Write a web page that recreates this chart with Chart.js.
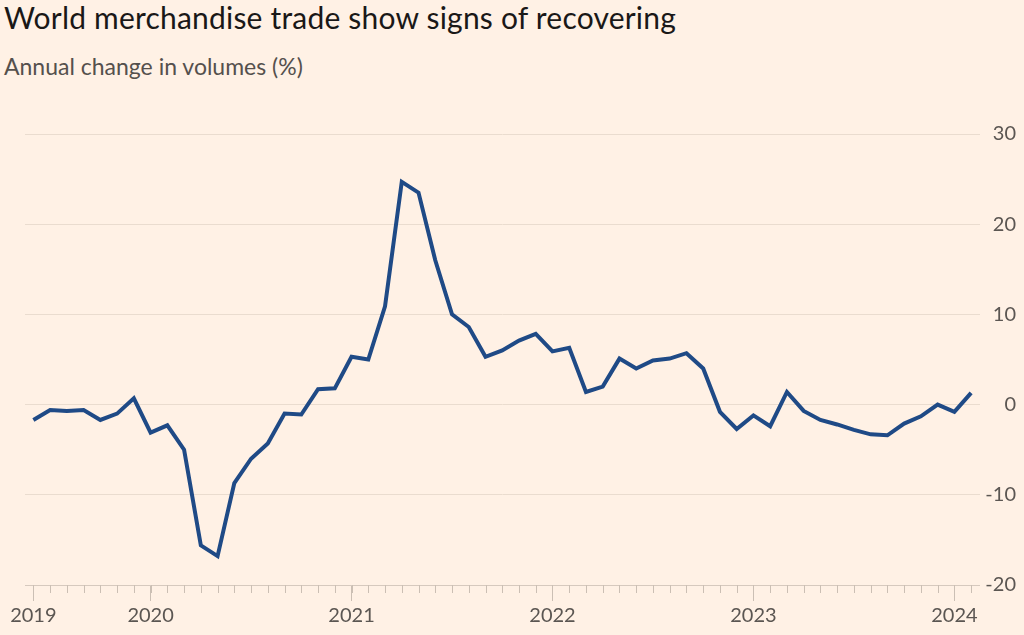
<!DOCTYPE html>
<html>
<head>
<meta charset="utf-8">
<script src="https://cdn.jsdelivr.net/npm/chart.js@4.4.1/dist/chart.umd.min.js"></script>
<style>
  html, body { margin: 0; padding: 0; background: #fff1e5; }
  #wrap { position: relative; width: 1024px; height: 635px; overflow: hidden; background: #fff1e5; }
  #title { position: absolute; left: 4px; top: -1px; font-family: Lato, "Open Sans", sans-serif; font-size: 30px; letter-spacing: 0.2px; color: #1a1817; white-space: nowrap; }
  #sub { position: absolute; left: 4px; top: 52px; font-family: Lato, "Open Sans", sans-serif; font-size: 23px; color: #55504d; white-space: nowrap; }
  canvas { position: absolute; left: 0; top: 0; }
</style>
</head>
<body>
<div id="wrap">
  <div id="title">World merchandise trade show signs of recovering</div>
  <div id="sub">Annual change in volumes (%)</div>
  <canvas id="c" width="1024" height="635"></canvas>
</div>
<script>
// Monthly categories (Jun 2019 – Feb 2024)
const months = [
  "Jun 2019","Jul 2019","Aug 2019","Sep 2019","Oct 2019","Nov 2019","Dec 2019",
  "Jan 2020","Feb 2020","Mar 2020","Apr 2020","May 2020","Jun 2020","Jul 2020","Aug 2020","Sep 2020","Oct 2020","Nov 2020","Dec 2020",
  "Jan 2021","Feb 2021","Mar 2021","Apr 2021","May 2021","Jun 2021","Jul 2021","Aug 2021","Sep 2021","Oct 2021","Nov 2021","Dec 2021",
  "Jan 2022","Feb 2022","Mar 2022","Apr 2022","May 2022","Jun 2022","Jul 2022","Aug 2022","Sep 2022","Oct 2022","Nov 2022","Dec 2022",
  "Jan 2023","Feb 2023","Mar 2023","Apr 2023","May 2023","Jun 2023","Jul 2023","Aug 2023","Sep 2023","Oct 2023","Nov 2023","Dec 2023",
  "Jan 2024","Feb 2024"
];

// Annual change in merchandise trade volumes (%)
const volumeChange = [
  -1.7, -0.6, -0.7, -0.6, -1.7, -1.0, 0.7,
  -3.1, -2.3, -5.0, -15.6, -16.8, -8.7, -6.0, -4.3, -1.0, -1.1, 1.7, 1.8,
  5.3, 5.0, 10.9, 24.7, 23.5, 16.0, 10.0, 8.6, 5.3, 6.0, 7.1, 7.85,
  5.9, 6.3, 1.4, 2.0, 5.1, 4.0, 4.9, 5.1, 5.7, 4.0, -0.8, -2.7,
  -1.2, -2.4, 1.4, -0.7, -1.7, -2.2, -2.8, -3.3, -3.4, -2.1, -1.3, 0.0,
  -0.8, 1.3
];

// Year tick labels and the months they sit on
const yearTickMonths = ["Jun 2019", "Jan 2020", "Jan 2021", "Jan 2022", "Jan 2023", "Jan 2024"];
const yearTickLabels = ["2019", "2020", "2021", "2022", "2023", "2024"];

// Y axis tick values
const yMin = -20, yMax = 30, yStep = 10;

const FONT = 'Lato, "Open Sans", sans-serif';
const TICK_COLOR = '#cbbfb4';

function isYearTick(index) {
  return yearTickMonths.indexOf(months[index]) !== -1;
}

const monthTicksPlugin = {
  id: 'monthTicks',
  afterDraw(chart) {
    const xs = chart.scales.x;
    const c = chart.ctx;
    const bottom = chart.chartArea.bottom;
    c.save();
    c.strokeStyle = TICK_COLOR;
    c.lineWidth = 1;
    xs.ticks.forEach((t, i) => {
      const x = Math.round(xs.getPixelForTick(i)) + 0.5;
      c.beginPath();
      c.moveTo(x, bottom);
      c.lineTo(x, bottom + 8);
      c.stroke();
    });
    c.restore();
  }
};

new Chart(document.getElementById('c'), {
  type: 'line',
  data: {
    labels: months,
    datasets: [{
      data: volumeChange,
      borderColor: '#1f4a86',
      borderWidth: 4,
      pointRadius: 0,
      tension: 0,
      fill: false
    }]
  },
  options: {
    responsive: false,
    animation: false,
    devicePixelRatio: 1,
    layout: { padding: { left: 25, top: 134, right: 8, bottom: 4 } },
    plugins: { legend: { display: false }, tooltip: { enabled: false }, title: { display: false } },
    scales: {
      x: {
        type: 'category',
        offset: true,
        border: { display: false },
        grid: {
          offset: false,
          drawOnChartArea: false,
          drawTicks: true,
          tickLength: 16,
          tickWidth: 1,
          tickColor: (ctx) => isYearTick(ctx.index) ? TICK_COLOR : 'rgba(0,0,0,0)'
        },
        ticks: {
          autoSkip: false,
          maxRotation: 0,
          minRotation: 0,
          padding: 5,
          color: '#5b5652',
          font: { family: FONT, size: 20, lineHeight: 1.0 },
          callback: function (value, index) {
            const k = yearTickMonths.indexOf(months[index]);
            return k === -1 ? '' : yearTickLabels[k];
          }
        }
      },
      y: {
        position: 'right',
        min: yMin,
        max: yMax,
        border: { display: false },
        grid: {
          drawTicks: false,
          lineWidth: 1,
          color: (ctx) => ctx.tick && ctx.tick.value === yMin ? '#d6c9be' : '#eadccf'
        },
        ticks: {
          stepSize: yStep,
          padding: 0,
          crossAlign: 'far',
          color: '#5b5652',
          font: { family: FONT, size: 20 }
        },
        afterFit: (s) => { s.width = 36.5; }
      }
    }
  },
  plugins: [monthTicksPlugin]
});
</script>
</body>
</html>
